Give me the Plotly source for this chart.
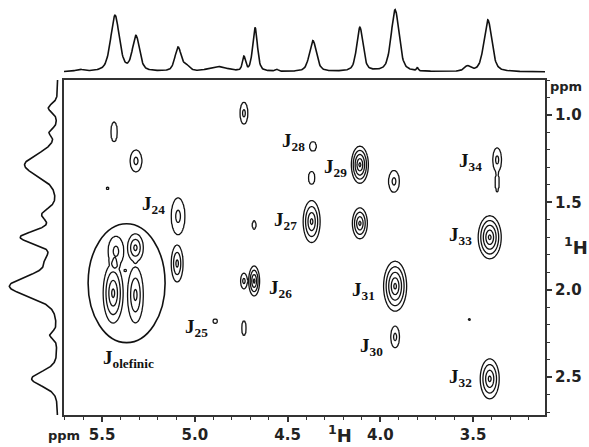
import numpy as np
import plotly.graph_objects as go

# ---------------- data ----------------
# Cross peaks: F2 shift, F1 shift (ppm), number of contour rings,
# half-width of the outermost ring along F2 and F1 (ppm)
peak_f2 = [5.435, 5.317, 5.470, 4.735, 5.090, 4.680, 5.095, 4.735, 4.680, 4.890,
           4.735, 4.363, 4.370, 4.110, 3.926, 3.370, 3.370, 4.370, 4.110, 3.410,
           3.920, 3.920, 3.520, 3.410,
           5.440, 5.425, 5.320, 5.320, 5.375]
peak_f1 = [1.097, 1.263, 1.420, 0.990, 1.580, 1.630, 1.850, 1.950, 1.950, 2.180,
           2.220, 1.180, 1.360, 1.285, 1.380, 1.257, 1.385, 1.610, 1.620, 1.700,
           1.980, 2.270, 2.170, 2.510,
           2.020, 1.780, 2.030, 1.760, 1.890]
peak_rings = [1, 2, 1, 2, 2, 1, 3, 2, 4, 1,
              1, 1, 1, 5, 2, 2, 1, 4, 4, 5,
              5, 2, 1, 4,
              4, 2, 3, 3, 1]
peak_wx = [0.0189, 0.0323, 0.0081, 0.0216, 0.0377, 0.0108, 0.0323, 0.0189, 0.0296, 0.0135,
           0.0135, 0.0189, 0.0189, 0.0458, 0.0297, 0.0243, 0.0120, 0.0458, 0.0404, 0.0620,
           0.0620, 0.0243, 0.0054, 0.0512,
           0.0540, 0.0430, 0.0430, 0.0430, 0.0080]
peak_wy = [0.0571, 0.0629, 0.0086, 0.0629, 0.1057, 0.0257, 0.1057, 0.0457, 0.0857, 0.0143,
           0.0429, 0.0286, 0.0371, 0.1057, 0.0629, 0.0700, 0.0550, 0.1200, 0.0886, 0.1229,
           0.1429, 0.0629, 0.0057, 0.1143,
           0.1710, 0.0860, 0.1600, 0.0800, 0.0090]

# Projection along F2 (top trace): position, height, FWHM
top_pos = [5.620, 5.430, 5.317, 5.090, 5.045, 4.875, 4.735, 4.675, 4.560,
           4.363, 4.110, 3.920, 3.800, 3.530, 3.420]
top_amp = [2, 56, 35, 24, 5, 5, 14, 44, 2, 31, 44, 62, 3, 5, 52]
top_fwhm = [0.05, 0.055, 0.045, 0.040, 0.04, 0.12, 0.020, 0.030, 0.02,
            0.045, 0.040, 0.050, 0.01, 0.04, 0.050]

# Projection along F1 (left trace): position, height, FWHM
side_pos = [0.960, 1.100, 1.286, 1.570, 1.700, 1.830, 1.980, 2.260, 2.510]
side_amp = [9, 7, 33, 14, 36, 8, 48, 7, 26]
side_fwhm = [0.06, 0.05, 0.15, 0.08, 0.09, 0.08, 0.14, 0.05, 0.10]

# Cross peak labels
label_text = ["J<sub>24</sub>", "J<sub>25</sub>", "J<sub>26</sub>", "J<sub>27</sub>",
              "J<sub>28</sub>", "J<sub>29</sub>", "J<sub>30</sub>", "J<sub>31</sub>",
              "J<sub>32</sub>", "J<sub>33</sub>", "J<sub>34</sub>", "J<sub>olefinic</sub>"]

# ---------------- build surfaces ----------------
X_LO, X_HI = 5.705, 3.112
Y_LO, Y_HI = 0.80, 2.717

xg = np.arange(3.10, 5.72, 0.005)
yg = np.arange(0.78, 2.74, 0.005)
XX, YY = np.meshgrid(xg, yg)
Z = np.zeros_like(XX)
# Each peak is a cone: levels 1..n give evenly spaced rings, the outermost
# (level 1) sitting at the stated half-widths; outside it the surface drops fast.
for px, py, n, wx, wy in zip(peak_f2, peak_f1, peak_rings, peak_wx, peak_wy):
    r = np.sqrt(((XX - px) / wx) ** 2 + ((YY - py) / wy) ** 2)
    inner = 1.0 + (n - 0.5) * (1.0 - r)
    outer = 1.0 - 4.0 * (r - 1.0)
    Z += np.clip(np.where(r <= 1.0, inner, outer), 0, None)
Z = np.round(Z, 2)


def pvoigt(grid, pos, amp, fwhm, eta):
    out = np.zeros_like(grid)
    for p, a, w in zip(pos, amp, fwhm):
        g = np.exp(-4 * np.log(2) * ((grid - p) / w) ** 2)
        l = 1.0 / (1.0 + 4 * ((grid - p) / w) ** 2)
        out += a * (eta * l + (1 - eta) * g)
    return out


tx = np.linspace(X_LO, X_HI, 900)
ty = pvoigt(tx, top_pos, top_amp, top_fwhm, 0.5)
sy_grid = np.linspace(Y_LO, Y_HI, 700)
sx_vals = pvoigt(sy_grid, side_pos, side_amp, side_fwhm, 0.3)

# ---------------- figure ----------------
W, H = 589, 447
fig = go.Figure()

fig.add_trace(go.Contour(
    x=xg, y=yg, z=Z,
    contours=dict(start=1, end=6, size=1, coloring="lines"),
    colorscale=[[0, "#111"], [1, "#111"]],
    line=dict(width=1.3, smoothing=1),
    showscale=False, hoverinfo="skip",
    xaxis="x", yaxis="y",
))

fig.add_trace(go.Scatter(x=tx, y=ty, mode="lines",
                         line=dict(color="#111", width=1.6),
                         xaxis="x2", yaxis="y2", hoverinfo="skip"))
fig.add_trace(go.Scatter(x=sx_vals, y=sy_grid, mode="lines",
                         line=dict(color="#111", width=1.6),
                         xaxis="x3", yaxis="y3", hoverinfo="skip"))

tickfont = dict(family="DejaVu Sans", size=15, color="#222", weight="bold")
main_x_dom = [64 / W, 545 / W]
main_y_dom = [32 / H, 367 / H]

fig.update_layout(
    width=W, height=H,
    margin=dict(l=0, r=0, t=0, b=0),
    paper_bgcolor="white", plot_bgcolor="white",
    showlegend=False,
    xaxis=dict(domain=main_x_dom, range=[X_LO, X_HI], anchor="y",
               showgrid=False, zeroline=False,
               showline=True, mirror=True, linecolor="#333", linewidth=2,
               ticks="outside", ticklen=5, tickwidth=1.5, tickcolor="#333",
               tickvals=[5.5, 5.0, 4.5, 4.0, 3.5],
               ticktext=["5.5", "5.0", "4.5", "4.0", "3.5"],
               tickfont=tickfont,
               minor=dict(dtick=0.1, tick0=0, ticks="outside", ticklen=3,
                          tickwidth=1.2, tickcolor="#333", showgrid=False)),
    yaxis=dict(domain=main_y_dom, range=[Y_HI, Y_LO], anchor="x", side="right",
               showgrid=False, zeroline=False,
               showline=True, mirror=True, linecolor="#333", linewidth=2,
               ticks="outside", ticklen=5, tickwidth=1.5, tickcolor="#333",
               tickvals=[1.0, 1.5, 2.0, 2.5],
               ticktext=["1.0", "1.5", "2.0", "2.5"],
               tickfont=tickfont,
               minor=dict(dtick=0.1, tick0=0, ticks="outside", ticklen=3,
                          tickwidth=1.2, tickcolor="#333", showgrid=False)),
    xaxis2=dict(domain=main_x_dom, range=[X_LO, X_HI], anchor="y2", visible=False),
    yaxis2=dict(domain=[(H - 78) / H, 1.0], range=[-6, 72], anchor="x2", visible=False),
    xaxis3=dict(domain=[0, 60 / W], range=[58, -2], anchor="y3", visible=False),
    yaxis3=dict(domain=main_y_dom, range=[Y_HI, Y_LO], anchor="x3", visible=False),
)

# Ellipse around the olefinic cross-peak cluster
fig.add_shape(type="circle", xref="x", yref="y",
              x0=5.575, x1=5.160, y0=1.623, y1=2.303,
              line=dict(color="#111", width=1.6))

# Cross peak labels
label_xy = [(5.22, 1.514), (4.993, 2.217), (4.54, 1.994), (4.513, 1.606),
            (4.47, 1.154), (4.239, 1.303), (4.045, 2.326), (4.088, 2.006),
            (3.565, 2.503), (3.57, 1.69), (3.516, 1.269), (5.36, 2.394)]
for txt, (lx, ly) in zip(label_text, label_xy):
    fig.add_annotation(x=lx, y=ly, xref="x", yref="y", text=txt, showarrow=False,
                       xanchor="center", yanchor="middle",
                       font=dict(family="Liberation Serif", size=19, color="#111",
                                 weight="bold"))

# Axis unit labels
unit_font = dict(family="DejaVu Sans", size=13, color="#222", weight="bold")
nuc_font = dict(family="DejaVu Sans", size=18, color="#222", weight="bold")
fig.add_annotation(x=64 / W, y=1 - 435 / H, xref="paper", yref="paper", text="ppm",
                   showarrow=False, xanchor="center", yanchor="middle", font=unit_font)
fig.add_annotation(x=566 / W, y=1 - 86 / H, xref="paper", yref="paper", text="ppm",
                   showarrow=False, xanchor="center", yanchor="middle", font=unit_font)
fig.add_annotation(x=576 / W, y=1 - 246 / H, xref="paper", yref="paper",
                   text="<sup>1</sup>H", showarrow=False,
                   xanchor="center", yanchor="middle", font=nuc_font)
fig.add_annotation(x=340 / W, y=1 - 434 / H, xref="paper", yref="paper",
                   text="<sup>1</sup>H", showarrow=False,
                   xanchor="center", yanchor="middle", font=nuc_font)

fig.write_html("out.html")
